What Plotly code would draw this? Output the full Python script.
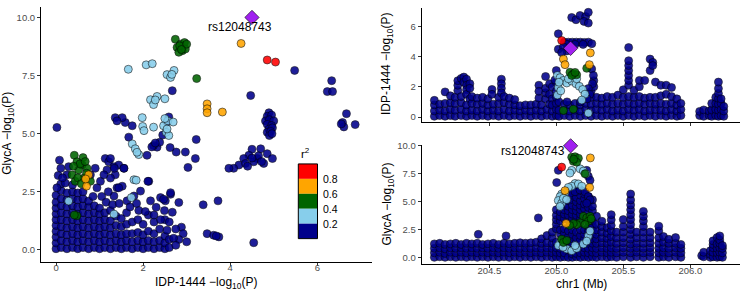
import plotly.graph_objects as go

# ---------------- colours / legend ----------------
R2_COLORS = ["#FF0000", "#FFA500", "#006400", "#87CEEB", "#00008B"]  # 0.8-1, 0.6-0.8, 0.4-0.6, 0.2-0.4, 0-0.2
R2_LABELS = ["0.8", "0.6", "0.4", "0.2"]
LEAD_COLOR = "#A020F0"
LEAD_SNP = "rs12048743"

# ---------------- left panel: IDP-1444 vs GlycA (-log10 P) ----------------
LEFT_NAVY_COLS = [
    (0.00, [0.05, 0.3, 0.55, 0.8, 1.05, 1.3, 1.55, 1.8, 2.05, 2.35]),
    (0.12, [0.1, 0.4, 0.7, 1.0, 1.3, 1.6, 1.9, 2.2, 2.55]),
    (0.25, [0.05, 0.35, 0.65, 0.95, 1.25, 1.55, 1.85, 2.15, 2.45]),
    (0.38, [0.1, 0.4, 0.7, 1.0, 1.3, 1.6, 1.9, 2.2, 2.5, 2.8]),
    (0.50, [0.05, 0.35, 0.65, 0.95, 1.25, 1.55, 1.85, 2.15, 2.45]),
    (0.62, [0.1, 0.4, 0.7, 1.0, 1.3, 1.6, 1.9, 2.2, 2.5]),
    (0.75, [0.05, 0.35, 0.65, 0.95, 1.25, 1.55, 1.85, 2.1]),
    (0.88, [0.1, 0.4, 0.7, 1.0, 1.3, 1.6, 1.9]),
    (1.00, [0.05, 0.35, 0.65, 0.95, 1.25, 1.55, 1.8]),
    (1.12, [0.1, 0.4, 0.7, 1.0, 1.3, 1.6]),
    (1.25, [0.05, 0.35, 0.65, 0.95, 1.25, 1.7]),
    (1.38, [0.1, 0.4, 0.7, 1.05, 1.45]),
    (1.50, [0.05, 0.35, 0.65, 1.0, 1.35]),
    (1.62, [0.1, 0.4, 0.7, 1.1, 1.6]),
    (1.75, [0.05, 0.35, 0.7, 1.2]),
    (1.88, [0.1, 0.4, 0.75, 1.3]),
    (2.00, [0.05, 0.35, 0.65, 1.1]),
    (2.12, [0.1, 0.4, 0.8, 1.5]),
    (2.25, [0.05, 0.35, 0.7, 1.2]),
    (2.38, [0.1, 0.4, 0.9]),
    (2.50, [0.05, 0.3, 0.6, 1.3]),
    (2.60, [0.1, 0.45]),
]
LEFT_NAVY = [
    (0.02, 5.27), (0.08, 3.86), (0.11, 3.51), (0.11, 2.84), (0.02, 2.67), (0.29, 3.58), (0.25, 3.23),
    (0.21, 2.88), (0.79, 3.23), (0.9, 3.51), (1.02, 2.95), (0.94, 2.67), (1.13, 3.93), (1.21, 3.79),
    (1.33, 3.58), (1.44, 3.65), (1.56, 3.51), (1.36, 3.23), (1.17, 3.44), (1.25, 3.09), (1.1, 3.23),
    (1.4, 2.67), (1.52, 2.74), (1.33, 2.32), (1.63, 2.11), (1.79, 2.32), (1.94, 2.53), (2.13, 2.95),
    (2.17, 2.11), (2.4, 2.25), (2.51, 2.11), (2.63, 2.39), (2.82, 2.04), (2.49, 1.69), (2.67, 1.62),
    (2.3, 1.83), (2.88, 0.98), (2.92, 0.7), (2.82, 0.45), (3.0, 0.35),
    (2.67, 6.85), (4.47, 6.64), (5.48, 7.72), (6.33, 7.28), (6.23, 6.81), (6.35, 6.81), (6.67, 5.86),
    (6.58, 5.48), (6.61, 5.29), (6.87, 5.39), (6.55, 5.42),
    (4.89, 5.9), (4.85, 5.75), (4.95, 5.8), (4.81, 5.55), (4.9, 5.6), (5.0, 5.55), (4.85, 5.4),
    (4.95, 5.35), (4.89, 5.2), (4.97, 5.25), (4.85, 5.06), (4.93, 5.1), (4.9, 4.92), (4.96, 5.0),
    (4.5, 4.33), (4.7, 4.35), (4.85, 4.14), (4.97, 3.93), (4.62, 3.93), (4.43, 4.07), (4.31, 3.93),
    (4.2, 3.65), (4.08, 3.51), (3.97, 3.51), (4.54, 3.79), (4.77, 3.72), (4.35, 3.72), (4.65, 4.05),
    (4.4, 3.6), (4.5, 3.95), (4.72, 3.8),
    (3.38, 1.94), (3.72, 2.11), (3.47, 0.7), (3.62, 0.63), (3.74, 0.56), (3.68, 0.6), (4.54, 0.31),
    (3.2, 3.93), (3.03, 3.55), (3.22, 4.75), (2.76, 4.21), (2.97, 4.21), (2.32, 4.42), (2.38, 4.63),
    (2.24, 4.49), (2.09, 4.07), (2.45, 4.94), (2.59, 5.72), (2.63, 2.46), (2.47, 2.18), (2.11, 2.95),
    (1.75, 5.34), (1.59, 5.48), (1.36, 5.69), (1.52, 5.69), (1.4, 5.55), (1.67, 4.85), (1.25, 3.93),
    (1.34, 3.51), (1.56, 3.51), (1.44, 2.67), (2.2, 4.43), (2.28, 4.6), (2.55, 5.5), (2.62, 4.4),
    (1.05, 2.3), (1.15, 2.05), (1.2, 2.5), (0.85, 2.3), (1.3, 1.95), (1.45, 2.0), (1.7, 1.85),
    (1.9, 1.7), (2.05, 1.65), (1.85, 2.0), (2.25, 1.5), (2.4, 1.3), (2.6, 1.2), (2.75, 0.9),
    (2.55, 0.85), (2.7, 0.5), (2.75, 0.2), (0.05, 3.2), (0.15, 3.1),
]
LEFT_SKY = [
    (1.66, 7.77), (2.07, 7.96), (2.21, 8.01), (2.55, 7.54), (2.63, 7.42), (2.71, 7.72), (2.66, 7.55),
    (2.17, 6.46), (2.32, 6.6), (2.24, 6.25), (2.5, 6.5), (2.28, 6.45), (1.98, 5.69), (1.99, 5.31),
    (2.02, 5.13), (2.24, 5.28), (2.47, 5.34), (2.57, 5.55), (2.69, 5.5), (2.53, 5.06), (2.59, 4.92),
    (2.55, 5.2), (1.75, 4.56), (1.82, 4.35), (1.9, 4.1), (1.86, 4.2), (1.79, 3.02), (1.84, 3.0),
    (1.73, 2.25), (0.29, 2.1), (1.33, 1.54), (2.5, 5.65),
]
LEFT_GREEN = [
    (2.74, 9.06), (2.86, 8.85), (2.95, 8.92), (2.78, 8.71), (2.9, 8.57), (2.82, 8.5), (2.97, 8.64),
    (2.84, 8.78), (3.0, 8.85), (2.88, 8.62), (3.23, 7.37),
    (0.42, 4.07), (0.62, 3.97), (0.48, 3.79), (0.6, 3.65), (0.71, 3.51), (0.52, 3.44), (0.37, 3.23),
    (0.44, 2.95), (0.64, 3.09), (0.79, 2.95), (0.55, 3.7), (0.67, 3.8), (0.4, 3.6), (0.5, 3.1),
    (0.58, 2.85), (0.7, 3.3), (0.48, 1.47), (0.42, 1.5),
]
LEFT_ORANGE = [(4.25, 8.88), (3.47, 6.28), (3.47, 6.07), (3.47, 5.9), (3.82, 5.93), (0.75, 3.23),
               (0.7, 2.74), (0.68, 3.05)]
LEFT_RED = [(4.85, 8.17), (5.04, 8.08)]
LEFT_LEAD = [(4.5, 10.0)]

# ---------------- top right: chr1 position vs IDP-1444 -log10 P ----------------
TR_NAVY_COLS = [
    (204.09, [0.05, 0.4, 0.8, 1.1]), (204.13, [0.1, 0.45, 0.85]), (204.17, [0.05, 0.4, 0.9, 1.66]),
    (204.21, [0.1, 0.5, 0.95, 1.4]), (204.245, [0.05, 0.45, 0.9, 1.3]), (204.265, [1.75, 2.1, 2.4]),
    (204.29, [0.1, 0.5, 0.95, 1.35, 2.55]), (204.31, [2.64, 2.3]),
    (204.33, [0.05, 0.4, 0.8, 2.5, 2.1, 1.8, 1.5]), (204.355, [1.2, 2.2, 1.9]),
    (204.37, [0.1, 0.45, 0.9, 1.35]), (204.41, [0.05, 0.4, 0.85, 1.25]), (204.45, [0.1, 0.5, 0.9, 1.3]),
    (204.49, [0.05, 0.4, 0.8, 1.2]), (204.52, [1.82, 1.5]), (204.53, [0.1, 0.45, 0.85]),
    (204.57, [0.05, 0.4, 0.9, 1.3]), (204.59, [2.5, 2.2, 1.9, 1.6]), (204.61, [0.1, 0.5, 0.95, 1.35]),
    (204.65, [0.05, 0.4, 0.85, 1.25]), (204.69, [0.1, 0.45, 0.8, 1.15]), (204.73, [0.05, 0.4, 0.75]),
    (204.77, [0.1, 0.45, 0.8]), (204.81, [0.05, 0.4, 0.8]), (204.85, [0.1, 0.45, 0.85]),
    (204.87, [1.25, 2.1, 1.7]), (204.89, [0.05, 0.4, 0.8]), (204.92, [1.2, 1.6, 1.9, 2.68]),
    (204.93, [0.1, 0.5]), (204.95, [0.85, 2.2, 1.5]), (204.97, [0.05, 0.4, 1.99, 1.2, 0.8]),
    (205.0, [0.1, 0.5, 0.9, 1.3, 1.7, 2.3, 3.07]), (205.02, [0.05, 0.45, 1.0]),
    (205.06, [0.1, 0.45, 0.85]), (205.1, [0.05, 0.4, 0.8]), (205.14, [0.1, 0.45, 0.9]),
    (205.18, [0.05, 0.4, 0.8]), (205.22, [0.1, 0.5, 0.9, 1.25]), (205.26, [0.05, 0.45, 0.85, 1.3, 1.7]),
    (205.28, [2.0, 2.4]), (205.3, [0.1, 0.5, 0.9, 1.3]), (205.34, [0.05, 0.45, 0.85, 1.25]),
    (205.38, [0.1, 0.5, 0.9, 1.35]), (205.42, [0.05, 0.4, 0.85, 1.3]), (205.46, [0.1, 0.45, 0.9, 1.45]),
    (205.5, [0.05, 0.4, 0.85, 1.3, 1.8]),
    (205.54, [0.1, 0.5, 0.9, 1.35, 2.1, 2.42, 2.75, 3.07, 3.4, 3.72, 4.59]),
    (205.58, [0.05, 0.45, 0.85, 1.3, 1.77]), (205.62, [0.1, 0.5, 0.9, 1.35, 2.0, 2.42]),
    (205.66, [0.05, 0.4, 0.85, 1.25, 2.42]), (205.7, [0.1, 0.45, 0.9, 1.3, 3.07, 3.83]),
    (205.72, [3.61, 3.4]), (205.74, [0.05, 0.5, 0.85, 1.3, 2.31]), (205.78, [0.1, 0.45, 0.9, 1.4, 2.1]),
    (205.82, [0.05, 0.4, 0.85, 1.5, 2.1]), (205.86, [0.1, 0.5, 0.9, 1.35, 1.95]),
    (205.9, [0.05, 0.4, 0.8, 1.2]), (205.93, [0.1, 0.5, 0.9]),
    (206.07, [0.1, 0.37]), (206.1, [0.05, 0.47]), (206.14, [0.1, 0.4]), (206.16, [0.05, 0.47, 0.9]),
    (206.19, [0.1, 0.5, 0.9, 1.3]), (206.21, [0.05, 0.45, 0.85, 1.23, 1.56, 1.88, 2.31]),
    (206.23, [0.1, 0.5, 0.9, 1.2]), (206.25, [0.05, 0.4, 0.7]),
]
TR_NAVY = [
    (205.115, 6.58), (205.147, 6.43), (205.177, 6.71), (205.219, 6.64), (205.239, 6.92), (205.207, 6.32),
    (205.239, 6.21), (205.015, 5.5),
    (205.06, 4.95), (205.09, 4.95), (205.12, 4.95), (205.15, 4.95), (205.18, 4.95), (205.21, 4.93),
    (205.24, 4.95), (205.265, 4.85), (205.08, 4.8), (205.14, 4.8), (205.2, 4.8),
    (205.015, 4.48), (205.053, 4.63), (205.078, 4.37), (205.04, 4.26),
    (205.264, 3.18), (205.277, 2.75), (205.27, 2.2), (205.239, 1.88),
    (205.25, 1.5), (205.23, 1.2), (205.18, 1.0), (205.08, 1.0), (204.99, 2.45),
]
TR_SKY = [
    (205.008, 2.75), (205.028, 2.6), (205.053, 2.42), (205.078, 2.25), (205.115, 2.38), (205.147, 2.2),
    (205.172, 2.03), (205.197, 1.82), (205.214, 1.51), (205.19, 1.12), (205.015, 1.95), (205.008, 1.45),
    (205.033, 1.73), (205.239, 0.26), (205.09, 2.53), (205.152, 2.53), (205.02, 2.3),
]
TR_GREEN = [(205.227, 3.22), (205.102, 2.96), (205.127, 2.85), (205.152, 2.79), (205.115, 2.75),
            (205.14, 2.95), (205.053, 0.43), (205.127, 0.52)]
TR_ORANGE = [(205.053, 3.83), (205.065, 3.46), (205.254, 4.24), (205.247, 3.46)]
TR_RED = [(205.04, 5.06)]
TR_LEAD = [(205.107, 4.54)]

# ---------------- bottom right: chr1 position vs GlycA -log10 P ----------------
BR_NAVY_COLS = [
    (204.09, [0.05, 0.45, 0.85, 1.25]), (204.13, [0.1, 0.5, 0.9, 1.3]), (204.17, [0.05, 0.4, 0.8, 1.2]),
    (204.21, [0.1, 0.5, 0.9, 1.25]), (204.25, [0.05, 0.45, 0.85, 1.3]), (204.29, [0.1, 0.5, 0.9, 1.2]),
    (204.33, [0.05, 0.45, 0.85, 1.3]), (204.37, [0.1, 0.5, 0.9, 1.25]), (204.418, [2.1]),
    (204.41, [0.05, 0.45, 0.85, 1.3]), (204.45, [0.1, 0.5, 0.9, 1.2]), (204.49, [0.05, 0.45, 0.85, 1.25]),
    (204.53, [0.1, 0.5, 0.9, 1.3]), (204.57, [0.05, 0.45, 0.85, 1.2]), (204.61, [0.1, 0.5, 0.9, 1.3]),
    (204.625, [1.96]), (204.65, [0.05, 0.45, 0.85, 1.25]), (204.69, [0.1, 0.5, 0.9, 1.3]),
    (204.73, [0.05, 0.45, 0.85, 1.35]), (204.77, [0.1, 0.5, 0.9, 1.3]), (204.81, [0.05, 0.45, 0.85, 1.35]),
    (204.85, [0.1, 0.5, 0.9, 1.4]), (204.866, [3.57]), (204.89, [0.05, 0.45, 0.85, 1.3, 1.7]),
    (204.93, [0.1, 0.5, 0.9, 1.35, 2.0]), (204.97, [0.05, 0.45, 0.85, 1.3, 1.8, 2.3]),
    (205.0, [0.1, 0.5, 0.9, 1.4, 2.6, 3.0, 3.4, 3.8, 4.3]),
    (205.03, [0.05, 0.45, 0.85, 2.1, 2.5, 3.3, 3.7, 4.1]),
    (205.06, [0.1, 0.45, 1.2, 1.7, 2.2, 2.6, 3.5, 3.9, 4.3, 4.7]),
    (205.09, [0.05, 1.1, 1.5, 1.9, 2.4, 3.4, 3.8, 4.2, 4.6, 5.1, 5.5]),
    (205.12, [0.05, 0.35, 1.3, 1.7, 2.1, 2.5, 3.5, 3.9, 4.3, 4.7, 5.2, 5.6, 6.0]),
    (205.15, [0.1, 0.4, 1.4, 1.8, 2.3, 3.4, 3.8, 4.2, 4.6, 5.0, 5.4, 5.9]),
    (205.18, [0.05, 0.45, 1.2, 1.6, 2.0, 2.5, 3.5, 3.9, 4.3, 4.7, 5.1, 5.6, 6.05]),
    (205.21, [0.1, 0.5, 0.9, 1.7, 2.1, 2.5, 4.4, 4.8, 5.3, 5.7]),
    (205.24, [0.05, 0.45, 0.85, 1.3, 2.4, 2.8, 4.1, 4.5, 5.0, 5.47]),
    (205.27, [0.1, 0.5, 0.9, 1.3, 1.7, 2.1, 2.5, 2.9, 3.3, 4.2, 4.6, 5.18]),
    (205.3, [0.05, 0.45, 0.85, 1.3, 1.7, 2.1, 2.5, 3.0, 3.71]),
    (205.34, [0.1, 0.5, 0.9, 1.35, 1.8, 2.3, 2.8, 3.27]),
    (205.38, [0.05, 0.45, 0.85, 1.3, 1.75, 2.2, 2.7]),
    (205.41, [0.1, 0.5, 0.9, 1.4, 1.9, 2.4, 2.9, 3.4, 3.86]),
    (205.45, [0.05, 0.45, 0.85, 1.3, 1.8, 2.3]),
    (205.5, [0.1, 0.5, 0.9, 1.35, 1.8, 2.3, 2.8, 3.42]),
    (205.555, [0.05, 0.45, 0.85, 1.23, 1.66, 2.1, 2.54, 2.98, 3.42, 3.86, 4.3, 4.73, 5.17, 5.7]),
    (205.6, [0.1, 0.5, 0.9, 1.3, 1.8, 2.3]),
    (205.65, [0.05, 0.45, 0.85, 1.3, 1.8, 2.3, 2.8, 3.3, 3.71, 4.15]),
    (205.7, [0.1, 0.5, 0.9, 1.35, 1.8, 2.3]), (205.765, [0.05, 0.45, 0.85, 1.3, 1.8, 2.4, 2.83]),
    (205.8, [0.1, 0.5, 0.9, 1.4, 1.9]), (205.84, [0.05, 0.45, 0.85, 1.3, 1.66]),
    (205.89, [0.1, 0.5, 0.9, 1.3, 1.81]), (205.93, [0.05, 0.45, 0.85, 1.2]),
    (206.085, [0.2]), (206.1, [0.1, 0.5]), (206.15, [0.05, 0.3, 0.64]), (206.17, [0.1, 0.5, 0.9, 1.2, 1.52]),
    (206.2, [0.05, 0.45, 0.85, 1.25, 1.81]), (206.22, [0.1, 0.5, 0.9, 1.3, 1.6, 1.96]),
    (206.24, [0.05, 0.45, 0.85, 1.1]),
]
BR_NAVY = [
    (205.015, 7.81), (205.003, 6.72), (205.239, 7.28), (205.252, 6.93), (205.227, 7.81),
    (205.102, 5.76), (205.14, 5.9), (205.177, 6.05), (205.214, 5.9), (205.239, 5.47), (205.252, 5.18),
    (205.227, 4.88),
]
BR_SKY = [
    (205.115, 7.81), (205.102, 7.57), (205.177, 7.95), (205.202, 7.75), (205.222, 7.51), (205.14, 6.64),
    (205.115, 6.4), (205.09, 6.29), (205.065, 5.82), (205.04, 5.7), (205.028, 5.47), (205.015, 5.12),
    (205.04, 4.88), (205.028, 4.59), (205.053, 5.32), (205.165, 6.6), (205.19, 6.4), (205.077, 5.2),
    (205.028, 1.32), (205.078, 0.79), (205.115, 0.64), (205.152, 0.85), (205.202, 1.23), (205.239, 1.96),
    (205.252, 2.4), (205.227, 1.5), (205.015, 1.1), (205.14, 1.1), (205.05, 0.95),
]
BR_GREEN = [
    (205.115, 8.98), (205.14, 9.03), (205.165, 8.89), (205.127, 8.62), (205.152, 8.54), (205.13, 8.8),
    (205.214, 7.51), (205.202, 3.71), (205.227, 3.57), (205.252, 3.71), (205.239, 3.27), (205.177, 3.13),
    (205.152, 2.98), (205.214, 2.98), (205.127, 3.07), (205.1, 2.9), (205.26, 3.5), (205.04, 1.67),
    (205.053, 1.38), (205.078, 1.55),
]
BR_ORANGE = [(205.254, 8.92), (205.249, 6.29), (205.065, 6.0), (205.073, 3.07)]
BR_RED = [(205.04, 8.1)]
BR_LEAD = [(205.107, 10.0)]

# ---------------- axes ----------------
LEFT_XTICKS = [0, 2, 4, 6]
LEFT_YTICKS = [0, 2.5, 5, 7.5, 10]
LEFT_YTICKTEXT = ["0.0", "2.5", "5.0", "7.5", "10.0"]
TR_YTICKS = [0, 2, 4, 6]
POS_TICKS = [204.5, 205.0, 205.5, 206.0]
POS_TICKTEXT = ["204.5", "205.0", "205.5", "206.0"]
BR_YTICKS = [0, 2.5, 5, 7.5, 10]
BR_YTICKTEXT = ["0.0", "2.5", "5.0", "7.5", "10.0"]

W, H = 740, 292
FONT = "Liberation Sans, Arial, sans-serif"


def fx(p):
    return p / W


def fy(p):
    return 1 - p / H


def expand(cols):
    pts = []
    for x, ys in cols:
        for y in ys:
            pts.append((x, y))
    return pts


def add_pts(fig, pts, color, xa, ya, symbol="circle", size=8):
    fig.add_trace(go.Scatter(
        x=[p[0] for p in pts], y=[p[1] for p in pts], mode="markers",
        xaxis=xa, yaxis=ya, cliponaxis=False, showlegend=False, hoverinfo="skip",
        marker=dict(color=color, size=size, symbol=symbol, opacity=0.88,
                    line=dict(color="black", width=0.6)),
    ))


fig = go.Figure()
panels = [
    ("x", "y", expand(LEFT_NAVY_COLS) + LEFT_NAVY, LEFT_SKY, LEFT_GREEN, LEFT_ORANGE, LEFT_RED, LEFT_LEAD),
    ("x2", "y2", expand(TR_NAVY_COLS) + TR_NAVY, TR_SKY, TR_GREEN, TR_ORANGE, TR_RED, TR_LEAD),
    ("x3", "y3", expand(BR_NAVY_COLS) + BR_NAVY, BR_SKY, BR_GREEN, BR_ORANGE, BR_RED, BR_LEAD),
]
for xa, ya, navy, sky, green, orange, red, lead in panels:
    add_pts(fig, navy, R2_COLORS[4], xa, ya)
    add_pts(fig, sky, R2_COLORS[3], xa, ya)
    add_pts(fig, green, R2_COLORS[2], xa, ya)
    add_pts(fig, orange, R2_COLORS[1], xa, ya)
    add_pts(fig, red, R2_COLORS[0], xa, ya)
    fig.add_trace(go.Scatter(
        x=[p[0] for p in lead], y=[p[1] for p in lead], mode="markers", xaxis=xa, yaxis=ya,
        cliponaxis=False, showlegend=False, hoverinfo="skip",
        marker=dict(color=LEAD_COLOR, size=11, symbol="diamond", line=dict(color="black", width=0.6)),
    ))

axis_common = dict(showline=True, linecolor="black", linewidth=1, ticks="outside", ticklen=3,
                   tickcolor="#333333", tickwidth=1, showgrid=False, zeroline=False,
                   tickfont=dict(family=FONT, size=9.5, color="#4D4D4D"), mirror=False)

fig.update_layout(
    width=W, height=H, autosize=False, margin=dict(l=0, r=0, t=0, b=0),
    paper_bgcolor="white", plot_bgcolor="white",
    font=dict(family=FONT),
    xaxis=dict(domain=[fx(41), fx(371.5)], range=[-0.345, 7.245], tickvals=LEFT_XTICKS,
               anchor="y", ticklabelstandoff=-6, **axis_common),
    yaxis=dict(domain=[fy(261), fy(2)], range=[-0.5, 10.45], tickvals=LEFT_YTICKS,
               ticktext=LEFT_YTICKTEXT, anchor="x", **axis_common),
    xaxis2=dict(domain=[fx(421.7), 1.0], range=[203.9955, 206.371], tickvals=POS_TICKS,
                showticklabels=False, anchor="y2", **axis_common),
    yaxis2=dict(domain=[fy(119.2), fy(3.3)], range=[-0.34, 7.19], tickvals=TR_YTICKS,
                anchor="x2", **axis_common),
    xaxis3=dict(domain=[fx(421.7), 1.0], range=[203.9955, 206.371], tickvals=POS_TICKS,
                ticktext=POS_TICKTEXT, anchor="y3", ticklabelstandoff=-5, **axis_common),
    yaxis3=dict(domain=[fy(263.3), fy(142.7)], range=[-0.526, 10.05], tickvals=BR_YTICKS,
                ticktext=BR_YTICKTEXT, anchor="x3", **axis_common),
)

title_font = dict(family=FONT, size=12, color="black")
ann = []
ann.append(dict(text="IDP-1444 \u2212log<sub>10</sub>(P)", x=fx(206), y=fy(283), xref="paper", yref="paper",
                showarrow=False, font=title_font, xanchor="center", yanchor="middle"))
ann.append(dict(text="GlycA \u2212log<sub>10</sub>(P)", x=fx(8), y=fy(131), xref="paper", yref="paper",
                showarrow=False, font=title_font, textangle=-90, xanchor="center", yanchor="middle"))
ann.append(dict(text="IDP-1444 \u2212log<sub>10</sub>(P)", x=fx(387), y=fy(60), xref="paper", yref="paper",
                showarrow=False, font=title_font, textangle=-90, xanchor="center", yanchor="middle"))
ann.append(dict(text="GlycA \u2212log<sub>10</sub>(P)", x=fx(388), y=fy(203), xref="paper", yref="paper",
                showarrow=False, font=title_font, textangle=-90, xanchor="center", yanchor="middle"))
ann.append(dict(text="chr1 (Mb)", x=fx(581), y=fy(284), xref="paper", yref="paper",
                showarrow=False, font=title_font, xanchor="center", yanchor="middle"))
# lead SNP labels
ann.append(dict(text=LEAD_SNP, x=LEFT_LEAD[0][0], y=LEFT_LEAD[0][1], xref="x", yref="y", showarrow=False,
                font=dict(family=FONT, size=12, color="black"), xanchor="center", yanchor="middle",
                xshift=-12, yshift=-10))
ann.append(dict(text=LEAD_SNP, x=BR_LEAD[0][0], y=BR_LEAD[0][1], xref="x3", yref="y3", showarrow=False,
                font=dict(family=FONT, size=12, color="black"), xanchor="right", yanchor="middle",
                xshift=-4, yshift=-5))

# r^2 legend
shapes = []
top, seg, lx0, lx1 = 161.7, 15.2, 298.3, 317.5
for i, c in enumerate(R2_COLORS):
    shapes.append(dict(type="rect", xref="paper", yref="paper", x0=fx(lx0), x1=fx(lx1),
                       y0=fy(top + seg * (i + 1)), y1=fy(top + seg * i), fillcolor=c,
                       line=dict(width=0)))
shapes.append(dict(type="rect", xref="paper", yref="paper", x0=fx(lx0), x1=fx(lx1),
                   y0=fy(top + seg * 5), y1=fy(top), line=dict(color="black", width=1)))
for i, lab in enumerate(R2_LABELS):
    ann.append(dict(text=lab, x=fx(lx1 + 3), y=fy(top + seg * (i + 1)), xref="paper", yref="paper",
                    showarrow=False, font=dict(family=FONT, size=10.5, color="black"),
                    xanchor="left", yanchor="middle"))
ann.append(dict(text="r<sup>2</sup>", x=fx(lx0 + 1), y=fy(151), xref="paper", yref="paper",
                showarrow=False, font=dict(family=FONT, size=11.5, color="black"),
                xanchor="left", yanchor="middle"))

fig.update_layout(annotations=ann, shapes=shapes)
fig.write_html("out.html", config={"displayModeBar": False},
               post_script="document.body.style.margin='0';document.body.style.overflow='hidden';")
